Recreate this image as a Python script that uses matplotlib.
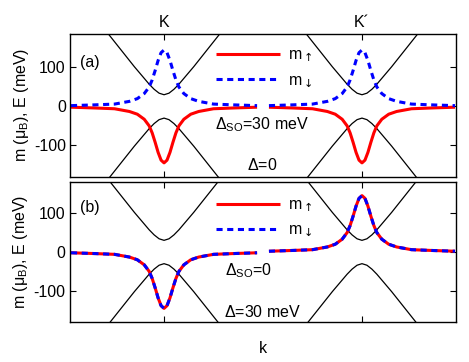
import matplotlib
matplotlib.use("Agg")
import matplotlib.pyplot as plt
import numpy as np

plt.rcParams['font.family'] = ['Liberation Sans', 'DejaVu Sans']
plt.rcParams['mathtext.fontset'] = 'custom'
plt.rcParams['mathtext.rm'] = 'Liberation Sans'
plt.rcParams['mathtext.it'] = 'Liberation Sans:italic'
plt.rcParams['mathtext.sf'] = 'DejaVu Sans'
plt.rcParams['axes.unicode_minus'] = False

# valley positions on the k axis and tick labels
valleys = [-1.0, 1.0]
valley_labels = ['K', 'K´']

# conduction / valence bands around each valley (meV)
band_q = [-0.6, -0.5, -0.4, -0.3, -0.25, -0.2, -0.15, -0.1, -0.05, 0.0,
          0.05, 0.1, 0.15, 0.2, 0.25, 0.3, 0.4, 0.5, 0.6]
band_c = [198, 166, 134, 102, 87, 72, 57, 44, 34, 30,
          34, 44, 57, 72, 87, 102, 134, 166, 198]
band_v = [-198, -166, -134, -102, -87, -72, -57, -44, -34, -30,
          -34, -44, -57, -72, -87, -102, -134, -166, -198]

# orbital moment profile around a valley (mu_B), magnitude
m_q = [-0.94, -0.7, -0.5, -0.35, -0.27, -0.2, -0.15, -0.12, -0.09, -0.06, -0.03, 0.0,
       0.03, 0.06, 0.09, 0.12, 0.15, 0.2, 0.27, 0.35, 0.5, 0.7, 0.94]
m_abs = [2, 4, 6, 13, 20, 33, 50, 68, 92, 118, 138, 145,
         138, 118, 92, 68, 50, 33, 20, 13, 6, 4, 2]

# sign of m_up / m_down at K and K' for each panel
signs_a = {'up': [-1, -1], 'down': [1, 1]}
signs_b = {'up': [-1, 1], 'down': [-1, 1]}

fig = plt.figure(figsize=(4.69, 3.62), dpi=100)
ax1 = fig.add_axes([0.1493, 0.5124, 0.8230, 0.3937])
ax2 = fig.add_axes([0.1493, 0.1105, 0.8230, 0.3867])

fs = 11.5
lw_m = 2.2


def draw_panel(ax, signs, ylim, leg_y):
    for v in valleys:
        x = v + np.array(band_q)
        ax.plot(x, band_c, color='black', lw=0.9)
        ax.plot(x, band_v, color='black', lw=0.9)
    for i, v in enumerate(valleys):
        x = v + np.array(m_q)
        lab_u = r'm$_{\mathsf{\uparrow}}$' if i == 0 else None
        lab_d = r'm$_{\mathsf{\downarrow}}$' if i == 0 else None
        ax.plot(x, signs['up'][i] * np.array(m_abs), color='#ff0000', lw=lw_m,
                label=lab_u, solid_capstyle='butt')
        ax.plot(x, signs['down'][i] * np.array(m_abs), color='#0000ff', lw=lw_m,
                dashes=(2.0, 1.5), label=lab_d)
    ax.set_xlim(-1.95, 1.95)
    ax.set_ylim(*ylim)
    ax.set_xticks(valleys)
    ax.set_yticks([-100, 0, 100])
    ax.tick_params(direction='in', length=4, width=0.8, top=True, right=True,
                   labelsize=fs)
    for s in ax.spines.values():
        s.set_linewidth(1.0)
    ax.set_ylabel(r'm ($\mathregular{\mu_B}$), E (meV)', fontsize=fs, labelpad=2)
    ax.legend(loc='upper left', bbox_to_anchor=(0.378, leg_y), frameon=False,
              fontsize=fs, handlelength=4.0, handletextpad=0.5,
              labelspacing=0.55, borderpad=0, borderaxespad=0)


draw_panel(ax1, signs_a, (-180, 186), 0.905)
draw_panel(ax2, signs_b, (-180, 180), 0.892)

ax1.tick_params(labelbottom=False, labeltop=True, pad=3)
ax1.set_xticklabels(valley_labels)
ax2.set_xticklabels([])
ax2.set_xlabel('k', fontsize=fs, labelpad=10)

ax1.text(0.026, 0.80, '(a)', transform=ax1.transAxes, fontsize=fs, va='center')
ax1.text(0.376, 0.333, r'$\mathregular{\Delta_{SO}}$=30 meV', transform=ax1.transAxes,
         fontsize=fs, va='baseline')
ax1.text(0.459, 0.046, r'$\mathregular{\Delta}$=0', transform=ax1.transAxes,
         fontsize=fs, va='baseline')

ax2.text(0.026, 0.82, '(b)', transform=ax2.transAxes, fontsize=fs, va='center')
ax2.text(0.402, 0.336, r'$\mathregular{\Delta_{SO}}$=0', transform=ax2.transAxes,
         fontsize=fs, va='baseline')
ax2.text(0.399, 0.038, r'$\mathregular{\Delta}$=30 meV', transform=ax2.transAxes,
         fontsize=fs, va='baseline')

fig.savefig('out.png', dpi=100)
